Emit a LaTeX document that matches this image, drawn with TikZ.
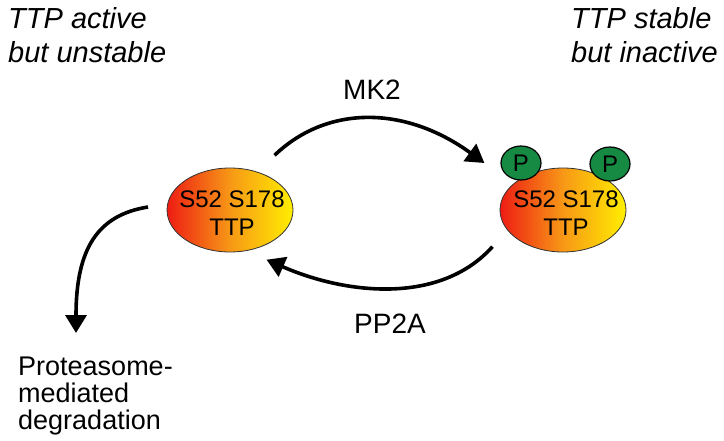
\documentclass[tikz,border=0pt]{standalone}
\usepackage{fontspec}
\setmainfont{Liberation Sans}
\usetikzlibrary{arrows.meta,shapes.geometric}
\definecolor{ttpred}{RGB}{238,28,20}
\definecolor{ttporange}{RGB}{247,152,22}
\definecolor{ttpyellow}{RGB}{255,238,0}
\definecolor{pgreen}{RGB}{22,138,66}

\begin{document}
\begin{tikzpicture}[x=1pt,y=1pt,line join=round,
  ttpbody/.style={ellipse,draw=black!80,line width=0.8pt,minimum width=126pt,minimum height=84pt,inner sep=0pt,outer sep=0pt,left color=ttpred,right color=ttpyellow,middle color=ttporange},
  ttptxt/.style={align=center,inner sep=0pt,font=\fontsize{24}{28}\selectfont},
  phos/.style={ellipse,draw=black,line width=1.2pt,fill=pgreen,minimum width=40pt,minimum height=34pt,inner sep=0pt,font=\fontsize{24}{24}\selectfont},
  note/.style={align=left,anchor=north west,inner sep=0pt,font=\fontsize{29}{34}\selectfont\itshape},
  cyc/.style={line width=3.6pt,-{Triangle[length=18pt,width=21pt]}}]
  \useasboundingbox (0,0) rectangle (724,440);
  % TTP, not phosphorylated
  \node[ttpbody] (ttp) at (230,230) {};
  \node[ttptxt] (ttplbl) at ([shift={(2pt,-3pt)}]ttp.center) {S52 S178\\TTP};
  % TTP with both serines phosphorylated
  \node[ttpbody] (ttpP) at (563,230) {};
  \node[ttptxt] (ttpPlbl) at ([shift={(3pt,-3pt)}]ttpP.center) {S52 S178\\TTP};
  \node[phos] (pA) at (521,277) {P};
  \node[phos] (pB) at (610,276) {P};
  % what each state means
  \node[note] (lblA) at (8,433) {TTP active\\but unstable};
  \node[note] (lblB) at (571,433) {TTP stable\\but inactive};
  \node[align=left,anchor=north west,inner sep=0pt,font=\fontsize{27}{27}\selectfont] (lblDeg) at (18,83) {Proteasome-\\mediated\\degradation};
  % kinase and phosphatase
  \node[font=\fontsize{28}{28}\selectfont] (lblMK) at (372,350) {MK2};
  \node[font=\fontsize{28}{28}\selectfont] (lblPP) at (390,116) {PP2A};
  \draw[cyc] ([yshift=25pt]ttp.north east) .. controls +(52pt,50pt) and +(-80pt,58pt) .. ([xshift=-16pt]pA.west);
  \draw[cyc] ([shift={(-26pt,-7pt)}]ttpP.south west) .. controls +(-52pt,-58pt) and +(80pt,-35pt) .. ([shift={(-8pt,-20pt)}]ttp.south east);
  \draw[cyc] ([shift={(-19pt,3pt)}]ttp.west) .. controls +(-50pt,-8pt) and +(0pt,85pt) .. ([shift={(58pt,24pt)}]lblDeg.north west);
\end{tikzpicture}
\end{document}
